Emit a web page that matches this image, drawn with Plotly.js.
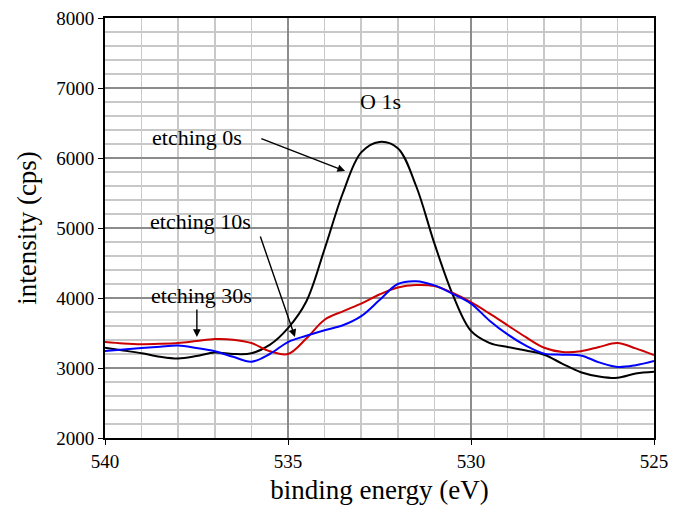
<!DOCTYPE html>
<html>
<head>
<meta charset="utf-8">
<script src="https://cdn.plot.ly/plotly-3.0.1.min.js"></script>
<style>html,body{margin:0;padding:0;background:#fff;}#chart{width:679px;height:505px;}</style>
</head>
<body>
<div id="chart"></div>
<script>
// Binding energy (eV), 0.5 eV steps
const energy = [540,539.5,539,538.5,538,537.5,537,536.5,536,535.5,535,534.5,534,533.5,533,532.5,532,531.5,531,530.5,530,529.5,529,528.5,528,527.5,527,526.5,526,525.5,525];
// etching 0s (black)
const etch0 = [3290,3250,3210,3160,3135,3170,3220,3200,3210,3330,3570,3950,4700,5500,6080,6230,6140,5600,4780,4050,3530,3360,3300,3250,3190,3060,2940,2880,2860,2920,2945];
// etching 10s (red)
const etch10 = [3370,3350,3340,3345,3357,3385,3414,3405,3357,3240,3200,3420,3690,3810,3920,4050,4150,4185,4170,4071,3940,3780,3610,3440,3290,3229,3240,3300,3357,3280,3186];
// etching 30s (blue)
const etch30 = [3243,3265,3286,3305,3320,3285,3240,3160,3090,3200,3371,3460,3540,3610,3740,3970,4200,4240,4180,4060,3920,3680,3480,3320,3205,3190,3180,3080,3015,3040,3100];

const xTickVals = [540,535,530,525];
const yTickVals = [2000,3000,4000,5000,6000,7000,8000];

const font = '"Liberation Serif", "Times New Roman", Times, serif';

const traces = [
  {x: energy, y: etch0, name: 'etching 0s', mode: 'lines', line: {color: '#000000', width: 2, shape: 'spline', smoothing: 1}},
  {x: energy, y: etch10, name: 'etching 10s', mode: 'lines', line: {color: '#cc0000', width: 2, shape: 'spline', smoothing: 1}},
  {x: energy, y: etch30, name: 'etching 30s', mode: 'lines', line: {color: '#0000ff', width: 2, shape: 'spline', smoothing: 1}}
];

const arrowStyle = {showarrow: true, arrowhead: 2, arrowsize: 1.1, arrowwidth: 1.4, arrowcolor: '#000', text: '', axref: 'x', ayref: 'y', xref: 'x', yref: 'y', standoff: 0, startstandoff: 0};

const layout = {
  width: 679, height: 505,
  margin: {l: 105, r: 25, t: 18, b: 67},
  paper_bgcolor: '#fff', plot_bgcolor: '#fff',
  showlegend: false,
  font: {family: font, color: '#000', size: 19},
  xaxis: {
    range: [540, 525], autorange: false,
    tickvals: xTickVals, ticktext: xTickVals.map(String),
    ticks: 'outside', ticklen: 5, tickwidth: 1, tickcolor: '#000',
    showline: true, linecolor: '#000', linewidth: 2, mirror: true,
    showgrid: true, gridcolor: '#8c8c8c', gridwidth: 1.5,
    minor: {dtick: 1, tick0: 525, showgrid: true, gridcolor: '#c8c8c8', gridwidth: 1.5},
    zeroline: false,
    tickfont: {family: font, size: 19, color: '#000'},
    title: {text: 'binding energy (eV)', font: {family: font, size: 27, color: '#000'}, standoff: 14}
  },
  yaxis: {
    range: [2000, 8000], autorange: false,
    tickvals: yTickVals, ticktext: yTickVals.map(String),
    ticks: 'outside', ticklen: 5, tickwidth: 1, tickcolor: '#000',
    showline: true, linecolor: '#000', linewidth: 2, mirror: true,
    showgrid: true, gridcolor: '#8c8c8c', gridwidth: 1.5,
    minor: {dtick: 200, tick0: 2000, showgrid: true, gridcolor: '#c8c8c8', gridwidth: 1.5},
    zeroline: false,
    tickfont: {family: font, size: 19, color: '#000'},
    title: {text: 'intensity (cps)', font: {family: font, size: 27, color: '#000'}, standoff: 12}
  },
  annotations: [
    {x: 532.46, y: 6814, xref: 'x', yref: 'y', text: 'O 1s', showarrow: false, font: {family: font, size: 22, color: '#000'}},
    {x: 537.49, y: 6286, xref: 'x', yref: 'y', text: 'etching 0s', showarrow: false, font: {family: font, size: 22, color: '#000'}},
    {x: 537.38, y: 5086, xref: 'x', yref: 'y', text: 'etching 10s', showarrow: false, font: {family: font, size: 22, color: '#000'}},
    {x: 537.35, y: 4029, xref: 'x', yref: 'y', text: 'etching 30s', showarrow: false, font: {family: font, size: 22, color: '#000'}},
    Object.assign({}, arrowStyle, {x: 533.44, y: 5814, ax: 535.77, ay: 6286}),
    Object.assign({}, arrowStyle, {x: 534.81, y: 3443, ax: 535.77, ay: 4900}),
    Object.assign({}, arrowStyle, {x: 537.49, y: 3443, ax: 537.49, ay: 3857})
  ]
};

Plotly.newPlot('chart', traces, layout, {staticPlot: true, displayModeBar: false});
</script>
</body>
</html>
